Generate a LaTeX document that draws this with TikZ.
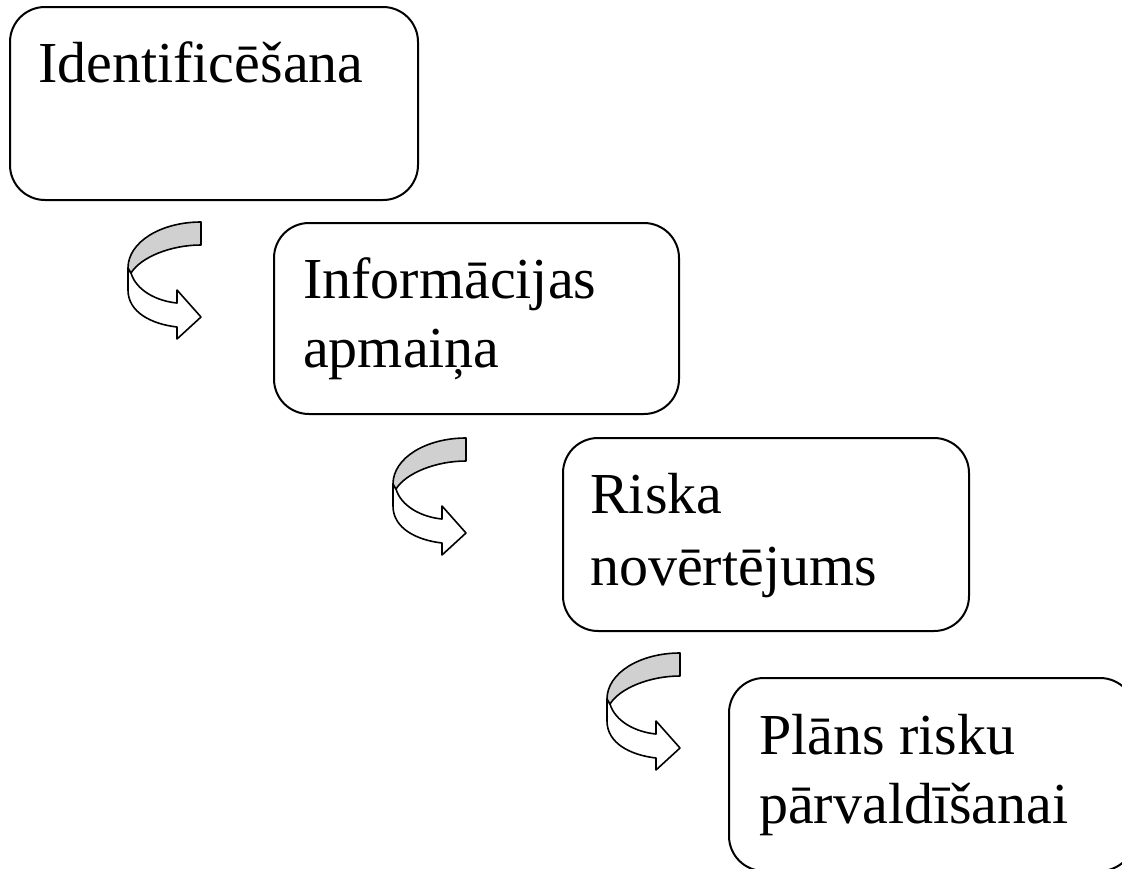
\documentclass[tikz,border=0pt]{standalone}
\usepackage{fontspec}
\setmainfont{Liberation Serif}
\definecolor{bandgrey}{HTML}{D0D0D0}
\tikzset{
  boxst/.style={draw=black, line width=2pt, rounded corners=35pt, rectangle, inner sep=0pt, anchor=north west, minimum width=406pt, minimum height=193pt},
  txt/.style={inner sep=0pt, anchor=base west, font=\fontsize{58}{69}\selectfont},
  bandline/.style={draw=black, line width=1.6pt, line join=round},
}
\newcommand{\uturn}[1]{%
  \begin{scope}[shift={#1}]
    \draw[bandline, fill=white] (-73,46) -- (-73,68) .. controls (-73,90) and (-50,102) .. (-24,105)
      -- (-24,117) -- (0,95) -- (-24,68) -- (-24,81) .. controls (-45,79) and (-65,68) .. (-70,51) -- cycle;
    \draw[bandline, fill=bandgrey] (0,0) .. controls (-40,0) and (-73,20) .. (-73,46) -- (-70,51)
      .. controls (-60,35) and (-30,23) .. (0,23) -- cycle;
  \end{scope}}
\begin{document}
\begin{tikzpicture}[x=1pt, y=-1pt]
\useasboundingbox (0,0) rectangle (1122,868);
\clip (0,0) rectangle (1122,868);
\node[boxst, minimum width=408pt] (b1) at (9,6) {};
\node[txt] (t1) at (38,82) {Identificēšana};
\node[boxst, minimum width=405pt, minimum height=191pt] (b2) at (273,222) {};
\node[txt] (t2a) at (303,298) {Informācijas};
\node[txt] (t2b) at (303,367) {apmaiņa};
\node[boxst] (b3) at (562,437) {};
\node[txt] (t3a) at (590,513) {Riska};
\node[txt] (t3b) at (590,585) {novērtējums};
\node[boxst] (b4) at (728,677) {};
\node[txt] (t4a) at (759,754) {Plāns risku};
\node[txt] (t4b) at (759,823) {pārvaldīšanai};
\uturn{(201,222)}
\uturn{(466,438)}
\uturn{(680,653)}
\end{tikzpicture}
\end{document}
